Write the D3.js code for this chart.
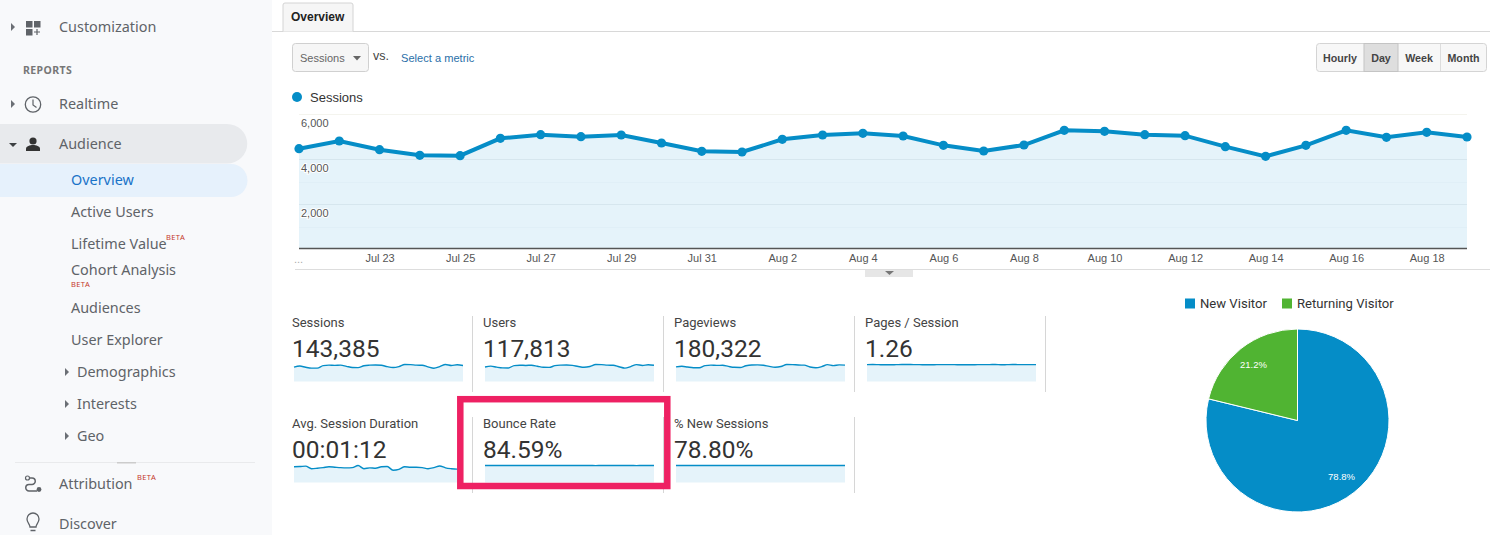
<!DOCTYPE html>
<html>
<head>
<meta charset="utf-8">
<script src="https://d3js.org/d3.v7.min.js"></script>
<style type="text/css">
	body { margin:0; background:#fff; overflow:hidden; }
	svg { display:block; }
	text { font-family:"Liberation Sans",Arial,sans-serif; }
	.nav { font-family:"Noto Sans",sans-serif; font-size:14.4px; fill:#5f6368; }
	.beta { font-family:"Noto Sans",sans-serif; font-size:7.5px; fill:#c5372c; letter-spacing:.4px; }
	.metric { font-family:Roboto,sans-serif; font-size:13px; fill:#444; }
	.metricVal { font-family:Roboto,sans-serif; font-size:24.5px; fill:#333; }
	.axis text { font-family:"Liberation Sans",Arial,sans-serif; font-size:11px; fill:#555; }
	.axis path, .axis line { display:none; }
</style>
</head>
<body>
<svg id="page" width="1490" height="535"></svg>
<script type="text/javascript">
	var blue = "#058dc7", green = "#50b432", fillBlue = "#e5f3fa";
	var svg = d3.select("#page");

	var sessions = [4458,4800,4415,4163,4148,4919,5081,4993,5067,4711,4341,4311,4874,5067,5141,
		5022,4607,4356,4622,5274,5230,5081,5037,4548,4119,4607,5274,4963,5185,4978];
	var startDay = new Date(2019,6,21);
	var days = sessions.map(function(d,i){ return d3.timeDay.offset(startDay,i); });

	// sidebar
	svg.append("rect").attr("width",272).attr("height",535).attr("fill","#f8f9fb");
	svg.append("path").attr("d","M0,124H227a20,19.5 0 0 1 0,39.5H0Z").attr("fill","#e8eaed");
	svg.append("path").attr("d","M0,164H231a16.5,16.5 0 0 1 0,33H0Z").attr("fill","#e6f1fc");

	var nav = [
		{t:"Customization",x:59,y:27},
		{t:"Realtime",x:59,y:104},
		{t:"Audience",x:59,y:144},
		{t:"Overview",x:71,y:180,c:"#1a73c8"},
		{t:"Active Users",x:71,y:212},
		{t:"Lifetime Value",x:71,y:244},
		{t:"Cohort Analysis",x:71,y:270},
		{t:"Audiences",x:71,y:308},
		{t:"User Explorer",x:71,y:340},
		{t:"Demographics",x:77,y:372},
		{t:"Interests",x:77,y:404},
		{t:"Geo",x:77,y:436},
		{t:"Attribution",x:59,y:484},
		{t:"Discover",x:59,y:524}
	];
	svg.selectAll(".nav").data(nav).enter().append("text")
		.attr("class","nav").attr("x",function(d){ return d.x; }).attr("y",function(d){ return d.y+5; })
		.style("fill",function(d){ return d.c || null; })
		.text(function(d){ return d.t; });
	svg.append("text").attr("x",23).attr("y",73.5).attr("font-size",10.5).attr("font-weight","bold")
		.attr("letter-spacing",".4px").attr("fill","#777").style("font-family","'Noto Sans',sans-serif").text("REPORTS");
	[[166,240],[71,287],[137,480]].forEach(function(b){
		svg.append("text").attr("class","beta").attr("x",b[0]).attr("y",b[1]).text("BETA");
	});
	svg.append("line").attr("x1",15).attr("x2",255).attr("y1",462.5).attr("y2",462.5).attr("stroke","#e9eaec");
	svg.append("rect").attr("x",117).attr("y",462).attr("width",19).attr("height",1.5).attr("fill","#ccc");

	// little arrows
	[[11,27],[11,104],[65,372],[65,404],[65,436]].forEach(function(a){
		svg.append("path").attr("d","M"+a[0]+","+(a[1]-4)+"l4,4l-4,4Z").attr("fill","#6b6f75");
	});
	svg.append("path").attr("d","M9,143h8l-4,4Z").attr("fill","#3c4043");

	// nav icons
	var icon = "#5f6368";
	[[26,21],[34,21],[26,29]].forEach(function(p){
		svg.append("rect").attr("x",p[0]).attr("y",p[1]).attr("width",6.5).attr("height",6.5).attr("fill",icon);
	});
	svg.append("path").attr("d","M37,29v6M34,32h6").attr("stroke",icon).attr("stroke-width",1.2);
	svg.append("circle").attr("cx",33).attr("cy",104.5).attr("r",7.7).attr("fill","none").attr("stroke",icon).attr("stroke-width",1.3);
	svg.append("path").attr("d","M33,99.5v5.5l3.5,2.5").attr("fill","none").attr("stroke",icon).attr("stroke-width",1.2);
	svg.append("circle").attr("cx",33).attr("cy",141).attr("r",3.6).attr("fill","#333");
	svg.append("path").attr("d","M26,151v-2.5c0-2,4-3.5,7-3.5s7,1.5,7,3.5v2.5Z").attr("fill","#333");
	svg.append("path").attr("d","M28,478h4a3,3 0 0 1 0,6.5h-3a3,3 0 0 0 0,6.5h8").attr("fill","none").attr("stroke",icon).attr("stroke-width",1.5);
	svg.append("circle").attr("cx",27.5).attr("cy",478).attr("r",2).attr("fill","#f8f9fb").attr("stroke",icon).attr("stroke-width",1.2);
	svg.append("circle").attr("cx",39).attr("cy",489.5).attr("r",2.4).attr("fill",icon);
	svg.append("path").attr("d","M30,527c0-3-3-4-3-8a6,6 0 0 1 12,0c0,4-3,5-3,8Z").attr("fill","none").attr("stroke",icon).attr("stroke-width",1.3);
	svg.append("path").attr("d","M30.5,530.5h5").attr("stroke",icon).attr("stroke-width",1.5);

	// tab and controls
	svg.append("line").attr("x1",272).attr("x2",1490).attr("y1",31.5).attr("y2",31.5).attr("stroke","#d8d8d8");
	svg.append("path").attr("d","M283,31.5V5q0,-2 2,-2H351q2,0 2,2V31.5").attr("fill","#f6f6f6").attr("stroke","#d4d4d4");
	svg.append("text").attr("x",291).attr("y",21).attr("font-size",12).attr("font-weight","bold").attr("fill","#222").text("Overview");

	svg.append("rect").attr("x",292.5).attr("y",43.5).attr("width",76).attr("height",28).attr("rx",3).attr("fill","#f6f6f6").attr("stroke","#d0d0d0");
	svg.append("text").attr("x",300).attr("y",62).attr("font-size",11).attr("fill","#666").text("Sessions");
	svg.append("path").attr("d","M353,56h8l-4,4.5Z").attr("fill","#666");
	svg.append("text").attr("x",373).attr("y",60).attr("font-size",12.5).attr("fill","#444").text("vs.");
	svg.append("text").attr("x",401).attr("y",62).attr("font-size",11.1).attr("fill","#2a6fa8").text("Select a metric");

	var buttons = [{t:"Hourly",x0:1316,x1:1364},{t:"Day",x0:1364,x1:1398,on:true},{t:"Week",x0:1398,x1:1440},{t:"Month",x0:1440,x1:1487}];
	svg.append("rect").attr("x",1316.5).attr("y",43.5).attr("width",170).attr("height",28).attr("rx",3).attr("fill","#f7f7f7").attr("stroke","#d4d4d4");
	buttons.forEach(function(b){
		if(b.on) svg.append("rect").attr("x",b.x0).attr("y",43.5).attr("width",b.x1-b.x0).attr("height",28).attr("fill","#dedede").attr("stroke","#c4c4c4");
		else if(b.x0>1316) svg.append("line").attr("x1",b.x0+.5).attr("x2",b.x0+.5).attr("y1",44).attr("y2",71).attr("stroke","#ddd");
		svg.append("text").attr("x",(b.x0+b.x1)/2).attr("y",62).attr("text-anchor","middle")
			.attr("font-size",10.7).attr("font-weight","bold").attr("fill","#444").text(b.t);
	});

	// main sessions chart
	svg.append("circle").attr("cx",297).attr("cy",97).attr("r",5).attr("fill",blue);
	svg.append("text").attr("x",310).attr("y",101.5).attr("font-size",13).attr("fill","#333").text("Sessions");

	var x = d3.scaleTime().domain([days[0],days[days.length-1]]).range([299,1467]),
	    y = d3.scaleLinear().domain([0,6000]).range([249,114]);

	svg.append("line").attr("x1",299).attr("x2",1467).attr("y1",y(6000)+.5).attr("y2",y(6000)+.5).attr("stroke","#f4f4ee");

	var area = d3.area().x(function(d,i){ return x(days[i]); }).y0(y(0)).y1(function(d){ return y(d); });
	var line = d3.line().x(function(d,i){ return x(days[i]); }).y(function(d){ return y(d); });

	svg.append("path").attr("d",area(sessions)).attr("fill",fillBlue);
	svg.selectAll(".grid").data([1000,2000,3000,4000]).enter().append("line")
		.attr("class","grid").attr("x1",299).attr("x2",1467)
		.attr("y1",function(d){ return Math.round(y(d))+.5; }).attr("y2",function(d){ return Math.round(y(d))+.5; })
		.attr("stroke",function(d){ return d%2000==0 ? "#d6e6ee" : "#e0eff7"; });
	svg.append("path").attr("d",line(sessions)).attr("fill","none").attr("stroke",blue).attr("stroke-width",4);
	svg.selectAll(".pt").data(sessions).enter().append("circle")
		.attr("class","pt").attr("r",4.6).attr("fill",blue)
		.attr("cx",function(d,i){ return x(days[i]); }).attr("cy",function(d){ return y(d); });
	svg.append("line").attr("x1",299).attr("x2",1467).attr("y1",248.5).attr("y2",248.5).attr("stroke","#555").attr("stroke-width",1.4);

	var yAxis = svg.append("g").attr("class","axis").attr("transform","translate(301,0)")
		.call(d3.axisRight(y).tickValues([2000,4000,6000]).tickSize(0).tickPadding(0).tickFormat(d3.format(",")));
	yAxis.selectAll("text").attr("dy",12).style("paint-order","stroke").style("stroke","#fff").style("stroke-width","2px");

	var xAxis = svg.append("g").attr("class","axis").attr("transform","translate(0,252)")
		.call(d3.axisBottom(x).tickValues(days.filter(function(d,i){ return i%2==0 && i>0; })).tickSize(0).tickPadding(0)
			.tickFormat(d3.timeFormat("%b %-d")));
	xAxis.selectAll("text").attr("dy","0.95em");
	svg.append("text").attr("x",294).attr("y",263).attr("font-size",11).attr("fill","#aaa").text("...");

	// chart drag bar
	svg.append("line").attr("x1",295).attr("x2",1490).attr("y1",269.5).attr("y2",269.5).attr("stroke","#ddd");
	svg.append("rect").attr("x",865).attr("y",270).attr("width",48).attr("height",7).attr("fill","#e6e6e6");
	svg.append("path").attr("d","M885,271h9l-4.5,4Z").attr("fill","#777");

	// metric tiles with sparklines
	var metrics = [
		{name:"Sessions",val:"143,385",x:292,row:0,data:sessions},
		{name:"Users",val:"117,813",x:483,row:0,data:[3720,3940,3680,3500,3480,4080,4180,4120,4180,3900,3640,3620,4060,4200,4240,4140,3860,3660,3860,4360,4320,4200,4160,3780,3440,3820,4340,4100,4300,4160]},
		{name:"Pageviews",val:"180,322",x:674,row:0,data:[5700,5950,5650,5400,5350,6200,6400,6300,6350,5900,5550,5500,6150,6450,6500,6350,5900,5600,5850,6650,6600,6450,6400,5650,5350,5800,6600,6200,6500,6400]},
		{name:"Pages / Session",val:"1.26",x:865,row:0,data:[1.26,1.27,1.26,1.25,1.25,1.26,1.27,1.27,1.26,1.26,1.25,1.25,1.26,1.26,1.26,1.26,1.25,1.25,1.25,1.26,1.26,1.26,1.27,1.25,1.26,1.27,1.26,1.26,1.26,1.26]},
		{name:"Avg. Session Duration",val:"00:01:12",x:292,row:1,data:[74,75,77,65,67,70,74,72,70,69,70,80,65,69,67,74,75,58,62,74,72,72,70,65,70,78,69,65,63,63]},
		{name:"Bounce Rate",val:"84.59%",x:483,row:1,data:[84.6,84.5,84.7,84.6,84.8,84.5,84.5,84.6,84.6,84.7,84.6,84.6,84.5,84.6,84.5,84.6,84.7,84.8,84.6,84.4,84.5,84.5,84.6,84.7,84.7,84.6,84.4,84.6,84.5,84.6]},
		{name:"% New Sessions",val:"78.80%",x:674,row:1,data:[78.9,78.8,78.9,78.7,78.7,78.8,78.8,78.9,78.8,78.8,78.9,78.9,78.8,78.7,78.8,78.9,78.7,78.8,78.8,78.9,78.8,78.7,78.8,78.8,78.9,78.8,78.9,78.7,78.8,78.8]}
	];
	var rowTop = [316,417];

	[[472.5,0],[663.5,0],[854.5,0],[1045.5,0],[472.5,1],[663.5,1],[854.5,1]].forEach(function(d){
		svg.append("line").attr("x1",d[0]).attr("x2",d[0]).attr("y1",rowTop[d[1]]).attr("y2",rowTop[d[1]]+76).attr("stroke","#d6d6d6");
	});

	metrics.forEach(function(m){
		var top = rowTop[m.row];
		svg.append("text").attr("class","metric").attr("x",m.x).attr("y",top+11).text(m.name);
		svg.append("text").attr("class","metricVal").attr("x",m.x).attr("y",top+41).text(m.val);
		var sx = d3.scaleLinear().domain([0,m.data.length-1]).range([m.x+2,m.x+171]),
		    sy = d3.scaleLinear().domain([0,d3.max(m.data)]).range([top+65.5,top+48.5]);
		var sparkArea = d3.area().curve(d3.curveMonotoneX).x(function(d,i){ return sx(i); }).y0(sy(0)).y1(function(d){ return sy(d); });
		var sparkLine = d3.line().curve(d3.curveMonotoneX).x(function(d,i){ return sx(i); }).y(function(d){ return sy(d); });
		svg.append("path").attr("d",sparkArea(m.data)).attr("fill",fillBlue);
		svg.append("path").attr("d",sparkLine(m.data)).attr("fill","none").attr("stroke",blue).attr("stroke-width",1.4);
	});

	// highlight box round bounce rate
	svg.append("rect").attr("x",460.3).attr("y",399.2).attr("width",207).attr("height",86.8)
		.attr("fill","none").attr("stroke","#ee2163").attr("stroke-width",6.5);

	// pie
	var pieData = [{name:"New Visitor",val:78.8,color:blue},{name:"Returning Visitor",val:21.2,color:green}];
	var pie = d3.pie().sort(null).value(function(d){ return d.val; });
	var arc = d3.arc().innerRadius(0).outerRadius(91.5),
	    labelArc = d3.arc().innerRadius(71.3).outerRadius(71.3);
	var gPie = svg.append("g").attr("transform","translate(1297.5,420.5)");
	gPie.selectAll("path").data(pie(pieData)).enter().append("path")
		.attr("d",arc).attr("fill",function(d){ return d.data.color; }).attr("stroke","#fff").attr("stroke-width",1);
	gPie.selectAll("text").data(pie(pieData)).enter().append("text")
		.attr("transform",function(d){ return "translate("+labelArc.centroid(d)+")"; })
		.attr("text-anchor","middle").attr("dy","0.35em").attr("font-size",9.5).attr("fill","#fff")
		.text(function(d){ return d.data.val.toFixed(1)+"%"; });

	var legendX = [1185,1282];
	pieData.forEach(function(d,i){
		svg.append("rect").attr("x",legendX[i]).attr("y",298.5).attr("width",10).attr("height",10).attr("fill",d.color);
		svg.append("text").attr("x",legendX[i]+15).attr("y",308).attr("font-size",13.1).attr("fill","#333")
			.style("font-family","Roboto,sans-serif").text(d.name);
	});
</script>
</body>
</html>
